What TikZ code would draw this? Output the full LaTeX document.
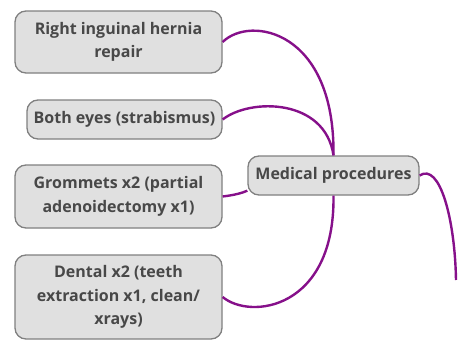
\documentclass[tikz,border=0pt]{standalone}
\usepackage{fontspec}
\setmainfont{Open Sans}
\usepackage{tikz}
\usetikzlibrary{calc}
\usepackage{xcolor}
\definecolor{boxfill}{HTML}{E0E0E0}
\definecolor{boxline}{HTML}{808080}
\definecolor{boxtext}{HTML}{484848}
\definecolor{branch}{HTML}{86108A}
\tikzset{
  topic/.style  = {draw=boxline, fill=boxfill, line width=1.3pt, rounded corners=11pt,
                   text=boxtext, align=center, inner sep=0pt,
                   font=\fontsize{16}{23.5}\selectfont\bfseries},
  branch/.style = {draw=branch, line width=2.4pt},
}

\begin{document}
\begin{tikzpicture}[x=1pt, y=-1pt]
\useasboundingbox (0,0) rectangle (467,340);

% ── Central topic ─────────────────────────────────────────────
\node[topic, minimum width=171, minimum height=39] (med) at (333.5,175.5) {Medical procedures};

% ── Sub topics on the left ────────────────────────────────────
\node[topic, minimum width=207, minimum height=62] (hernia) at (118.5,42) {Right inguinal hernia\\repair};
\node[topic, minimum width=195, minimum height=39] (eyes) at (124.5,119.5) {Both eyes (strabismus)};
\node[topic, minimum width=207, minimum height=63] (grom) at (118.5,196.5) {Grommets x2 (partial\\adenoidectomy x1)};
\node[topic, minimum width=207, minimum height=84] (dental) at (118.5,297) {Dental x2 (teeth\\extraction x1, clean/\\xrays)};

% loose end of the branch going off the right edge
\coordinate (tail) at (456,280);

% ── Branches ──────────────────────────────────────────────────
\draw[branch] (hernia.east) .. controls (250,15) and (335,30) .. (med.north);
\draw[branch] (eyes.east) .. controls (250,98) and (325,98) .. (med.north);
\draw[branch] (grom.east) .. controls (235,195) and (242,193) .. (med.190);
\draw[branch] (dental.east) .. controls (250,320) and (335,310) .. (med.south);
\draw[branch] (med.east) .. controls (440,162) and (455,220) .. (tail);

\end{tikzpicture}
\end{document}
